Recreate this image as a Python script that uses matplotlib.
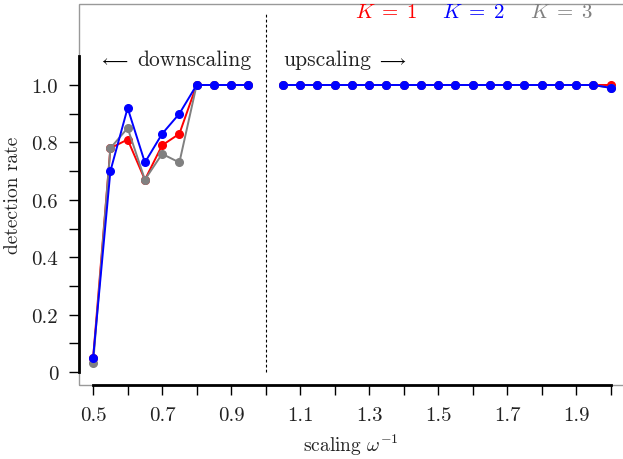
import numpy as np
import matplotlib.pyplot as plt
from matplotlib.patches import Rectangle

plt.rcParams['font.family'] = 'serif'
plt.rcParams['font.serif'] = ['cmr10']
plt.rcParams['mathtext.fontset'] = 'cm'
plt.rcParams['axes.unicode_minus'] = False

# scaling factors
x_down = [0.5, 0.55, 0.6, 0.65, 0.7, 0.75, 0.8, 0.85, 0.9, 0.95]
x_up = [1.05, 1.1, 1.15, 1.2, 1.25, 1.3, 1.35, 1.4, 1.45, 1.5,
        1.55, 1.6, 1.65, 1.7, 1.75, 1.8, 1.85, 1.9, 1.95, 2.0]

# detection rates per K
k1_down = [0.05, 0.78, 0.81, 0.67, 0.79, 0.83, 1.0, 1.0, 1.0, 1.0]
k2_down = [0.05, 0.70, 0.92, 0.73, 0.83, 0.90, 1.0, 1.0, 1.0, 1.0]
k3_down = [0.03, 0.78, 0.85, 0.67, 0.76, 0.73, 1.0, 1.0, 1.0, 1.0]
k1_up = [1.0] * 19 + [1.0]
k2_up = [1.0] * 19 + [0.99]
k3_up = [1.0] * 19 + [0.99]

labels = [r'$K\;=\;1$', r'$K\;=\;2$', r'$K\;=\;3$']
colors = ['#ff0000', '#0000ff', '#808080']

xticks = [0.5, 0.7, 0.9, 1.1, 1.3, 1.5, 1.7, 1.9]
yticks = [0, 0.2, 0.4, 0.6, 0.8, 1.0]
yticklabels = ['0', '0.2', '0.4', '0.6', '0.8', '1.0']

fig = plt.figure(figsize=(6.23, 4.6), dpi=100)
ax = fig.add_axes([0.1268, 0.161, 0.8732, 0.828])

series = [(k1_down, k1_up, colors[0]), (k3_down, k3_up, colors[2]),
          (k2_down, k2_up, colors[1])]
for yd, yu, c in series:
    ax.plot(x_down, yd, '-o', color=c, lw=1.4, ms=5.5)
    ax.plot(x_up, yu, '-o', color=c, lw=1.4, ms=5.5)

ax.plot([1.0, 1.0], [0, 1.25], color='black', lw=0.8, ls=(0, (2.5, 2)))

ax.set_xlim(0.459, 2.036)
ax.set_ylim(-0.045, 1.282)

ax.set_xticks(xticks)
ax.set_xticks(np.arange(0.6, 2.01, 0.2), minor=True)
ax.set_yticks(yticks)
ax.set_yticklabels(yticklabels)
ax.set_yticks(np.arange(0.1, 1.01, 0.2), minor=True)
ax.tick_params(which='both', direction='out', length=7, width=1,
               labelsize=15, labelcolor='#222222', pad=8)

for s in ax.spines.values():
    s.set_visible(False)
ax.spines['left'].set_visible(True)
ax.spines['bottom'].set_visible(True)
ax.spines['left'].set_bounds(0, 1.1)
ax.spines['bottom'].set_bounds(0.5, 2.0)
ax.spines['left'].set_linewidth(2)
ax.spines['bottom'].set_linewidth(2)
ax.add_patch(Rectangle((0, 0), 1.2, 1, transform=ax.transAxes, fill=False,
                       edgecolor='#999999', lw=1, clip_on=False, zorder=0))

ax.set_xlabel(r'scaling $\omega^{-1}$', fontsize=14, color='#222222', labelpad=6)
ax.set_ylabel('detection rate', fontsize=14, color='#222222', labelpad=7)

# region hints
ax.text(0.517, 1.09, r'$\longleftarrow$', fontsize=12, color='black',
        va='center', ha='left')
ax.text(0.6275, 1.09, 'downscaling', fontsize=15.5, color='#222222',
        va='center', ha='left')
ax.text(1.05, 1.09, 'upscaling', fontsize=15.5, color='#222222',
        va='center', ha='left')
ax.text(1.322, 1.09, r'$\longrightarrow$', fontsize=12, color='black',
        va='center', ha='left')

for lab, c, xp in zip(labels, colors, [1.349, 1.601, 1.857]):
    ax.text(xp, 1.255, lab, fontsize=15, color=c, ha='center', va='center')

fig.savefig('out.png', dpi=100)
